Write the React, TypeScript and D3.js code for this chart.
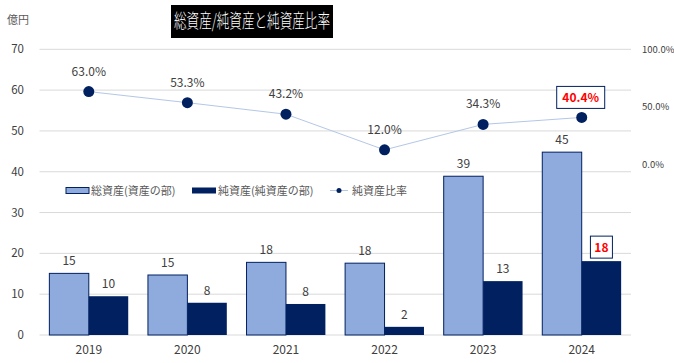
import React from "react";
import * as d3 from "d3";

const years = ["2019", "2020", "2021", "2022", "2023", "2024"];
const totalAssets = [15.1, 14.7, 17.8, 17.6, 38.9, 44.8];
const totalLabels = ["15", "15", "18", "18", "39", "45"];
const netAssets = [9.5, 7.9, 7.6, 2.0, 13.2, 18.1];
const netLabels = ["10", "8", "8", "2", "13", "18"];
const ratio = [0.63, 0.533, 0.432, 0.12, 0.343, 0.404];
const ratioLabels = ["63.0%", "53.3%", "43.2%", "12.0%", "34.3%", "40.4%"];
const leftTicks = [0, 10, 20, 30, 40, 50, 60, 70];
const rightTicks = [0, 0.5, 1];
const rightTickLabels = ["0.0%", "50.0%", "100.0%"];

const W = 674;
const H = 363;
const FONT = "'Noto Sans CJK JP', 'Noto Sans', sans-serif";
const TXT = "#404040";
const LIGHT = "#8FAADC";
const NAVY = "#002060";

export default function App() {
  const left = 39.5;
  const right = 631;
  const top = 49.3;
  const bottom = 335;

  const x = d3.scaleBand<string>().domain(years).range([left, right]).paddingInner(0).paddingOuter(0);
  const bw = x.bandwidth();
  const groupW = bw / 1.25;
  const barW = groupW / 2;
  const y = d3.scaleLinear().domain([0, 70]).range([bottom, top]);
  const yR = d3.scaleLinear().domain([-1.5, 1]).range([bottom, top]);

  const cx = (i: number) => (x(years[i]) as number) + bw / 2;
  const line = d3
    .line<number>()
    .x((_, i) => cx(i))
    .y((d) => yR(d));

  const last = years.length - 1;

  return (
    <svg width={W} height={H} style={{ position: "absolute", left: 0, top: 0, background: "#fff" }} fontFamily={FONT}>
      {/* title */}
      <rect x={171} y={5} width={162} height={33} fill="#000" />
      <text x={252} y={28} fill="#fff" fontSize={19} fontWeight={300} textAnchor="middle" textLength={156} lengthAdjust="spacingAndGlyphs">
        総資産/純資産と純資産比率
      </text>
      <text x={7} y={24} fill="#595959" fontSize={11}>億円</text>

      {/* gridlines */}
      {leftTicks.map((t) => (
        <line key={t} x1={left} x2={right} y1={y(t)} y2={y(t)} stroke="#D9D9D9" strokeWidth={1} />
      ))}
      {leftTicks.map((t) => (
        <text key={"l" + t} x={24} y={y(t) + 4} fill={TXT} fontSize={11.5} textAnchor="end">
          {t}
        </text>
      ))}
      {rightTicks.map((t, i) => (
        <text key={"r" + t} x={642} y={yR(t) + 4} fill={TXT} fontSize={9.5} textAnchor="start">
          {rightTickLabels[i]}
        </text>
      ))}

      {/* bars */}
      {years.map((yr, i) => {
        const gx = (x(yr) as number) + (bw - groupW) / 2;
        return (
          <g key={yr}>
            <rect x={gx} y={y(totalAssets[i])} width={barW} height={y(0) - y(totalAssets[i])} fill={LIGHT} stroke={NAVY} strokeWidth={1} />
            <rect x={gx + barW} y={y(netAssets[i])} width={barW} height={y(0) - y(netAssets[i])} fill={NAVY} />
            <text x={gx + barW / 2} y={y(totalAssets[i]) - 8} fill={TXT} fontSize={12} textAnchor="middle">
              {totalLabels[i]}
            </text>
            {i !== last && (
              <text x={gx + barW * 1.5} y={y(netAssets[i]) - 8} fill={TXT} fontSize={12} textAnchor="middle">
                {netLabels[i]}
              </text>
            )}
            <text x={cx(i)} y={354} fill={TXT} fontSize={12} textAnchor="middle">
              {yr}
            </text>
          </g>
        );
      })}

      {/* highlighted net label */}
      {(() => {
        const gx = (x(years[last]) as number) + (bw - groupW) / 2;
        const bx = gx + barW * 1.5;
        const by = y(netAssets[last]);
        return (
          <g>
            <rect x={bx - 11} y={by - 25} width={22} height={22} fill="#fff" stroke={NAVY} strokeWidth={1} />
            <text x={bx} y={by - 9} fill="#FF0000" fontSize={12} fontWeight="bold" textAnchor="middle">
              {netLabels[last]}
            </text>
          </g>
        );
      })()}

      {/* ratio line */}
      <path d={line(ratio) || ""} fill="none" stroke="#B4C7E7" strokeWidth={1} />
      {ratio.map((r, i) => (
        <circle key={i} cx={cx(i)} cy={yR(r)} r={5.5} fill={NAVY} />
      ))}
      {ratio.map((r, i) =>
        i !== last ? (
          <text key={"t" + i} x={cx(i)} y={yR(r) - 16} fill={TXT} fontSize={12} textAnchor="middle">
            {ratioLabels[i]}
          </text>
        ) : null
      )}
      {(() => {
        const px = cx(last);
        const py = yR(ratio[last]);
        return (
          <g>
            <rect x={px - 25} y={py - 31} width={48} height={22} fill="#fff" stroke={NAVY} strokeWidth={1} />
            <text x={px - 1} y={py - 15.5} fill="#FF0000" fontSize={12} fontWeight="bold" textAnchor="middle">
              {ratioLabels[last]}
            </text>
          </g>
        );
      })()}

      {/* legend */}
      <g fontSize={11} fill="#595959">
        <rect x={66} y={187.5} width={23} height={6} fill={LIGHT} stroke={NAVY} strokeWidth={1} />
        <text x={91} y={194.5}>総資産(資産の部)</text>
        <rect x={192} y={187.5} width={24} height={6} fill={NAVY} />
        <text x={218} y={194.5}>純資産(純資産の部)</text>
        <line x1={330} x2={348} y1={190.5} y2={190.5} stroke="#B4C7E7" strokeWidth={1} />
        <circle cx={339} cy={190.5} r={2.5} fill={NAVY} />
        <text x={352} y={194.5}>純資産比率</text>
      </g>
    </svg>
  );
}
